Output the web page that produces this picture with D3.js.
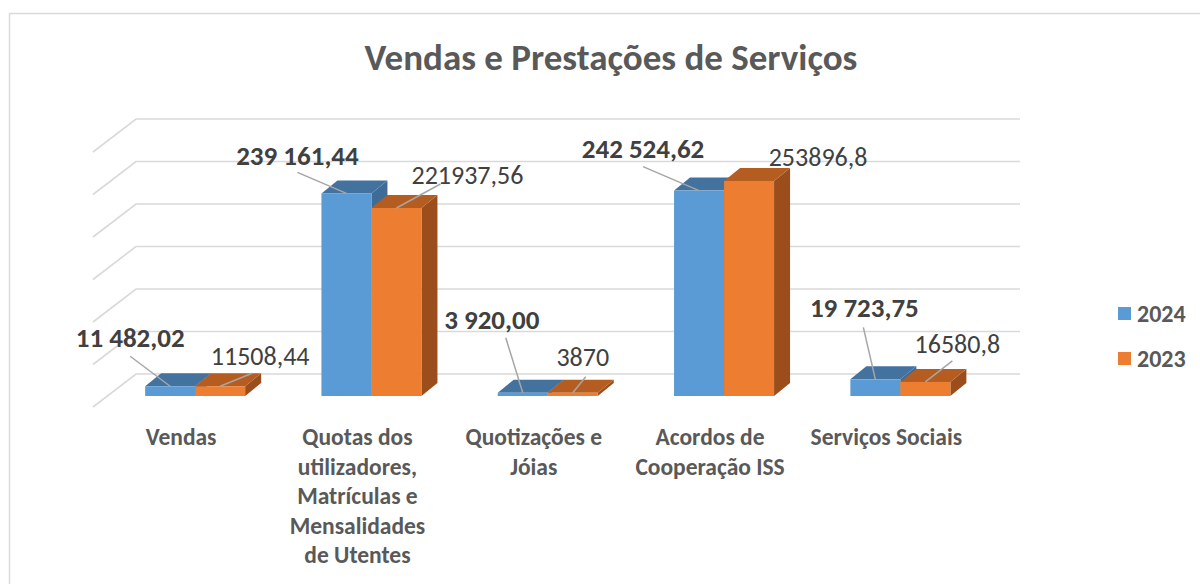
<!DOCTYPE html>
<html>
<head>
<meta charset="utf-8">
<script src="https://cdn.jsdelivr.net/npm/d3@7"></script>
<style>
  body { margin: 0; background: #fff; }
  text { font-family: "Carlito", "Liberation Sans Narrow", "Liberation Sans", sans-serif; }
</style>
</head>
<body>
<div id="chart"></div>
<script>
// data
var categories = [
    ['Vendas'],
    ['Quotas dos', 'utilizadores,', 'Matrículas e', 'Mensalidades', 'de Utentes'],
    ['Quotizações e', 'Jóias'],
    ['Acordos de', 'Cooperação ISS'],
    ['Serviços Sociais']
];
var series = ['2024', '2023'];
var values2024 = [11482.02, 239161.44, 3920.00, 242524.62, 19723.75];
var values2023 = [11508.44, 221937.56, 3870, 253896.8, 16580.8];
var labels2024 = ['11 482,02', '239 161,44', '3 920,00', '242 524,62', '19 723,75'];
var labels2023 = ['11508,44', '221937,56', '3870', '253896,8', '16580,8'];
var gridTicks = [0, 50000, 100000, 150000, 200000, 250000, 300000];

// label placement (manually moved in the original)
var labelOffsets = {
    '2024': [[-40, -49], [-49, -38], [-31, -73], [-56, -42], [-11, -72]],
    '2023': [[40, -30], [71, -33], [10, -36], [69, -24], [32, -38]]
};
var leaderStart = {
    '2024': [[0, 19], [0, 17], [14, 18], [0, 18], [-1, 20]],
    '2023': [[-8, 17], [-27, 9], [3, 20], null, [-5, 17]]
};

var svgWidth = 1200;
var svgHeight = 584;
var depthX = 16, depthY = -13;

var colors = {
    '2024': { front: '#5B9BD5', top: '#44729F', side: '#3F6C96' },
    '2023': { front: '#ED7D31', top: '#B55D21', side: '#9B4E1C' }
};

var svg = d3.select('#chart')
    .append('svg')
    .attr('width', svgWidth)
    .attr('height', svgHeight);

// chart border
svg.append('rect')
    .attr('x', 9.5)
    .attr('y', 13.5)
    .attr('width', 1200)
    .attr('height', 600)
    .attr('fill', '#fff')
    .attr('stroke', '#D9D9D9')
    .attr('stroke-width', 1.5);

// title
svg.append('text')
    .attr('x', 611)
    .attr('y', 70)
    .attr('text-anchor', 'middle')
    .attr('font-size', 37)
    .attr('font-weight', 'bold')
    .attr('fill', '#595959')
    .text('Vendas e Prestações de Serviços');

// scales
var keys = categories.map(function(c, i) { return 'c' + i; });
var x0 = d3.scaleBand()
    .domain(keys)
    .range([107, 107 + 5 * 176.3]);
var x1 = d3.scaleBand()
    .domain(series)
    .range([-50, 50]);
// front face of bars
var yFront = d3.scaleLinear()
    .domain([0, 300000])
    .range([396, 396 - 300000 * 0.000847]);
// back wall
var yWall = d3.scaleLinear()
    .domain([0, 300000])
    .range([374, 119]);

// gridlines (back wall + side wall)
var grid = svg.append('g');
grid.selectAll('polyline')
    .data(gridTicks)
    .enter()
    .append('polyline')
    .attr('points', function(d) {
        var y = yWall(d);
        return [[93, y + 33], [136, y], [1020, y]].join(' ');
    })
    .attr('fill', 'none')
    .attr('stroke', '#D9D9D9')
    .attr('stroke-width', 1.6);

// bars
var bars = [];
series.forEach(function(s) {
    var vals = s === '2024' ? values2024 : values2023;
    vals.forEach(function(v, i) {
        bars.push({ s: s, i: i, v: v });
    });
});
// draw left to right
bars.sort(function(a, b) { return a.i - b.i || (a.s === '2024' ? -1 : 1); });

var barG = svg.append('g');
var bw = x1.bandwidth();
bars.forEach(function(d) {
    var xl = x0('c' + d.i) + x0.bandwidth() / 2 + x1(d.s);
    var xr = xl + bw;
    var yt = yFront(d.v);
    var yb = yFront(0);
    var c = colors[d.s];
    var g = barG.append('g');
    // side
    g.append('polygon')
        .attr('points', [[xr, yt], [xr + depthX, yt + depthY], [xr + depthX, yb + depthY], [xr, yb]].join(' '))
        .attr('fill', c.side);
    // top
    g.append('polygon')
        .attr('points', [[xl, yt], [xl + depthX, yt + depthY], [xr + depthX, yt + depthY], [xr, yt]].join(' '))
        .attr('fill', c.top);
    // front
    g.append('rect')
        .attr('x', xl)
        .attr('y', yt)
        .attr('width', bw)
        .attr('height', yb - yt)
        .attr('fill', c.front);
});

// data labels + leader lines
var lblG = svg.append('g');
bars.forEach(function(d) {
    var cx = x0('c' + d.i) + x0.bandwidth() / 2 + x1(d.s) + bw / 2;
    var yt = yFront(d.v);
    var off = labelOffsets[d.s][d.i];
    var lx = cx + off[0], ly = yt + off[1];
    var ls = leaderStart[d.s][d.i];
    if (ls) {
        lblG.append('line')
            .attr('x1', lx + ls[0])
            .attr('y1', ly + ls[1])
            .attr('x2', cx)
            .attr('y2', yt)
            .attr('stroke', '#A6A6A6')
            .attr('stroke-width', 1.5);
    }
    lblG.append('text')
        .attr('x', lx)
        .attr('y', ly)
        .attr('dy', '0.35em')
        .attr('text-anchor', 'middle')
        .attr('font-size', d.s === '2024' ? 27 : 26)
        .attr('font-weight', d.s === '2024' ? 'bold' : 'normal')
        .attr('fill', '#404040')
        .text(d.s === '2024' ? labels2024[d.i] : labels2023[d.i]);
});

// category labels
var catG = svg.append('g');
categories.forEach(function(lines, i) {
    var cx = x0('c' + i) + x0.bandwidth() / 2 - 14;
    var t = catG.append('text')
        .attr('x', cx)
        .attr('y', 437)
        .attr('text-anchor', 'middle')
        .attr('font-size', 23.5)
        .attr('font-weight', 'bold')
        .attr('fill', '#595959');
    lines.forEach(function(l, j) {
        t.append('tspan')
            .attr('x', cx)
            .attr('y', 437 + j * 29.5)
            .attr('dy', '0.35em')
            .text(l);
    });
});

// legend
var legend = svg.append('g')
    .selectAll('g')
    .data(series)
    .enter()
    .append('g')
    .attr('transform', function(d, i) { return 'translate(1118,' + (307 + i * 45) + ')'; });
legend.append('rect')
    .attr('width', 13)
    .attr('height', 13)
    .attr('fill', function(d) { return colors[d].front; });
legend.append('text')
    .attr('x', 19)
    .attr('y', 7)
    .attr('dy', '0.35em')
    .attr('font-size', 24)
    .attr('font-weight', 'bold')
    .attr('fill', '#595959')
    .text(function(d) { return d; });
</script>
</body>
</html>
